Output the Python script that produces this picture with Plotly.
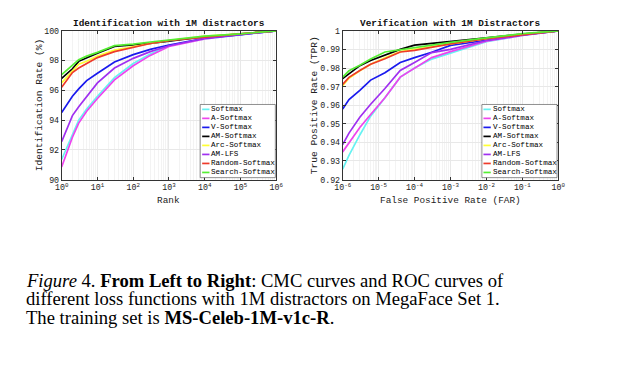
import plotly.graph_objects as go

names = ["Softmax", "A-Softmax", "V-Softmax", "AM-Softmax", "Arc-Softmax",
         "AM-LFS", "Random-Softmax", "Search-Softmax"]
colors = ["#66F2F2", "#EE44EE", "#1A1AEE", "#000000", "#FFFF33",
          "#A030F0", "#EE3A2A", "#55EE33"]

# Left: CMC (identification rate % vs rank)
rank = [1, 2, 3, 5, 10, 30, 100, 300, 1000, 1e4, 1e5, 1e6]
cmc = {
    "Softmax":        [91.35, 93.05, 94.0, 94.75, 95.6, 96.85, 97.8, 98.45, 99.0, 99.45, 99.75, 100],
    "A-Softmax":      [90.85, 92.85, 93.8, 94.6, 95.45, 96.7, 97.65, 98.35, 98.95, 99.45, 99.75, 100],
    "V-Softmax":      [94.5, 95.6, 96.1, 96.65, 97.15, 97.9, 98.4, 98.75, 99.05, 99.5, 99.75, 100],
    "AM-Softmax":     [96.8, 97.45, 97.95, 98.2, 98.5, 98.95, 99.05, 99.15, 99.3, 99.6, 99.8, 100],
    "Arc-Softmax":    [96.5, 97.3, 97.75, 97.95, 98.3, 98.7, 98.95, 99.15, 99.35, 99.65, 99.8, 100],
    "AM-LFS":         [92.55, 94.3, 94.9, 95.6, 96.5, 97.5, 98.15, 98.6, 99.0, 99.5, 99.75, 100],
    "Random-Softmax": [96.2, 97.2, 97.5, 97.8, 98.2, 98.6, 98.9, 99.15, 99.35, 99.6, 99.8, 100],
    "Search-Softmax": [97.05, 97.65, 98.05, 98.3, 98.55, 99.0, 99.1, 99.25, 99.4, 99.65, 99.8, 100],
}

# Right: ROC (TPR vs FAR)
far = [1e-6, 1.5e-6, 3e-6, 6e-6, 1.5e-5, 4e-5, 1e-4, 3e-4, 1e-3, 1e-2, 1e-1, 1]
roc = {
    "Softmax":        [0.9256, 0.9330, 0.9440, 0.9541, 0.9640, 0.9751, 0.9800, 0.9848, 0.9880, 0.9942, 0.9975, 1],
    "A-Softmax":      [0.9349, 0.9400, 0.9480, 0.9550, 0.9640, 0.9751, 0.9800, 0.9856, 0.9888, 0.9944, 0.9975, 1],
    "V-Softmax":      [0.9580, 0.9630, 0.9680, 0.9735, 0.9775, 0.9830, 0.9856, 0.9885, 0.9922, 0.9952, 0.9978, 1],
    "AM-Softmax":     [0.9743, 0.9770, 0.9813, 0.9840, 0.9868, 0.9900, 0.9923, 0.9933, 0.9945, 0.9962, 0.9982, 1],
    "Arc-Softmax":    [0.9705, 0.9745, 0.9785, 0.9820, 0.9855, 0.9888, 0.9900, 0.9915, 0.9930, 0.9958, 0.9982, 1],
    "AM-LFS":         [0.9388, 0.9450, 0.9535, 0.9605, 0.9690, 0.9787, 0.9830, 0.9883, 0.9900, 0.9948, 0.9978, 1],
    "Random-Softmax": [0.9712, 0.9750, 0.9787, 0.9820, 0.9850, 0.9886, 0.9895, 0.9912, 0.9930, 0.9958, 0.9980, 1],
    "Search-Softmax": [0.9751, 0.9785, 0.9815, 0.9848, 0.9886, 0.9898, 0.9913, 0.9925, 0.9938, 0.9962, 0.9985, 1],
}

left_xticks = [1, 10, 100, 1e3, 1e4, 1e5, 1e6]
left_xtext = ["10<sup>%d</sup>" % i for i in range(7)]
right_xticks = [1e-6, 1e-5, 1e-4, 1e-3, 1e-2, 1e-1, 1]
right_xtext = ["10<sup>%d</sup>" % i for i in range(-6, 1)]
left_yticks = [90, 92, 94, 96, 98, 100]
right_yticks = [0.92, 0.93, 0.94, 0.95, 0.96, 0.97, 0.98, 0.99, 1.0]
right_ytext = ["0.92", "0.93", "0.94", "0.95", "0.96", "0.97", "0.98", "0.99", "1"]

MONO = "Liberation Mono"
fig = go.Figure()
for n, c in zip(names, colors):
    fig.add_trace(go.Scatter(x=rank, y=cmc[n], mode="lines", name=n,
                             line=dict(color=c, width=1.7),
                             xaxis="x", yaxis="y", showlegend=False))
for n, c in zip(names, colors):
    fig.add_trace(go.Scatter(x=far, y=roc[n], mode="lines", name=n,
                             line=dict(color=c, width=1.7),
                             xaxis="x2", yaxis="y2", showlegend=False))

W, H = 617, 368
def px(a): return a / W
def py(b): return 1 - b / H
def dx(a, b): return [a / W, b / W]
def dy(top, bot): return [1 - bot / H, 1 - top / H]

axcommon = dict(showline=True, linecolor="#333333", linewidth=0.8, mirror="ticks",
                ticks="inside", ticklen=3, tickcolor="#333333",
                showgrid=True, gridcolor="#E8E8E8", gridwidth=0.6, zeroline=False,
                tickfont=dict(family=MONO, size=8.3, color="#222222"))
minor_log = dict(dtick="D1", showgrid=True, gridcolor="#F3F3F3", gridwidth=0.5, ticks="")

fig.update_layout(
    width=W, height=H, margin=dict(l=0, r=0, t=0, b=0),
    paper_bgcolor="white", plot_bgcolor="white", showlegend=False,
    xaxis=dict(domain=dx(55, 275), type="log", range=[0, 6], tickvals=left_xticks,
               ticktext=left_xtext, minor=minor_log, anchor="y", **axcommon),
    yaxis=dict(domain=dy(27.5, 180), range=[90, 100], tickvals=left_yticks, anchor="x", **axcommon),
    xaxis2=dict(domain=dx(343, 564), type="log", range=[-6, 0], tickvals=right_xticks,
                ticktext=right_xtext, minor=minor_log, anchor="y2", **axcommon),
    yaxis2=dict(domain=dy(27.5, 180), range=[0.92, 1.0], tickvals=right_yticks, ticktext=right_ytext,
                anchor="x2", **axcommon),
)

def ann(text, x, y, size, family=MONO, xanchor="center", angle=0, color="#111"):
    fig.add_annotation(text=text, x=px(x), y=py(y), xref="paper", yref="paper",
                       showarrow=False, xanchor=xanchor, yanchor="middle", textangle=angle,
                       font=dict(family=family, size=size, color=color))

# titles and axis titles
ann("<b>Identification with 1M distractors</b>", 165, 20.5, 9.4)
ann("<b>Verification with 1M Distractors</b>", 453.5, 20.5, 9.4)
ann("Rank", 165, 201, 9.4, color="#222")
ann("False Positive Rate (FAR)", 453.5, 201, 9.4, color="#222")
ann("Identification Rate (%)", 33, 103.5, 9.6, angle=-90, color="#222")
ann("True Positive Rate (TPR)", 315, 103.5, 9.6, angle=-90, color="#222")

# legends (box, short line samples, labels)
def legend(x0, x1, line0, line1, textx):
    fig.add_shape(type="rect", xref="paper", yref="paper", x0=px(x0), x1=px(x1),
                  y0=py(178), y1=py(103), fillcolor="white",
                  line=dict(color="#444", width=0.6), layer="above")
    for i, (n, c) in enumerate(zip(names, colors)):
        yy = 108 + 9.24 * i
        fig.add_shape(type="line", xref="paper", yref="paper", x0=px(line0), x1=px(line1),
                      y0=py(yy), y1=py(yy), line=dict(color=c, width=1.7), layer="above")
        ann(n, textx, yy, 7.6, xanchor="left", color="#000")

legend(197, 274, 199, 206.5, 206.5)
legend(485.7, 562.7, 487.3, 494.8, 494.8)

SERIF = "Liberation Serif"
cap = ["<i>Figure</i> 4. <b>From Left to Right</b>: CMC curves and ROC curves of",
       "different loss functions with 1M distractors on MegaFace Set 1.",
       "The training set is <b>MS-Celeb-1M-v1c-R</b>."]
for i, t in enumerate(cap):
    ann(t, 16, 283 + 19 * i, 18.6, family=SERIF, xanchor="left", color="#000")

fig.write_html("out.html", config={"displayModeBar": False},
               post_script="document.body.style.margin='0px';")
